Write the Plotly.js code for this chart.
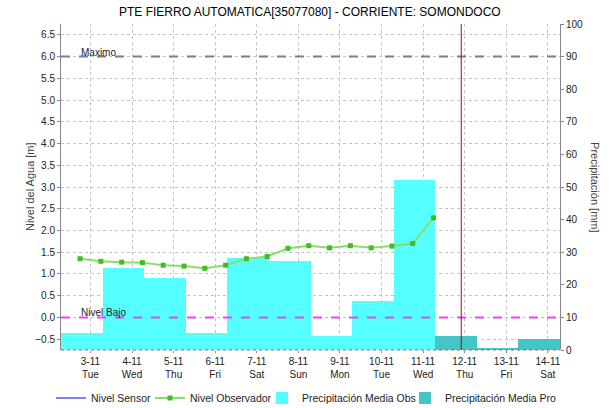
<!DOCTYPE html>
<html>
<head>
<meta charset="utf-8">
<script src="https://cdn.plot.ly/plotly-3.0.1.min.js"></script>
<style>html,body{margin:0;padding:0;background:#fff;}#chart{width:616px;height:408px;}</style>
</head>
<body>
<div id="chart"></div>
<script>
// ---- data ----
var obsTimes = [
  '2020-11-02 18:00','2020-11-03 06:00','2020-11-03 18:00','2020-11-04 06:00',
  '2020-11-04 18:00','2020-11-05 06:00','2020-11-05 18:00','2020-11-06 06:00',
  '2020-11-06 18:00','2020-11-07 06:00','2020-11-07 18:00','2020-11-08 06:00',
  '2020-11-08 18:00','2020-11-09 06:00','2020-11-09 18:00','2020-11-10 06:00',
  '2020-11-10 18:00','2020-11-11 06:00'
];
var obsLevels = [1.35,1.29,1.27,1.26,1.20,1.18,1.13,1.20,1.35,1.40,1.59,1.65,1.60,1.65,1.60,1.64,1.70,2.29];

var sensorTimes = ['2020-11-11 06:00'];
var sensorLevels = [null];

var precObsDays = ['2020-11-02 19:00','2020-11-03 19:00','2020-11-04 19:00','2020-11-05 19:00',
  '2020-11-06 19:00','2020-11-07 19:00','2020-11-08 19:00','2020-11-09 19:00','2020-11-10 19:00'];
var precObs = [5.3,25.2,22.0,5.3,28.1,27.2,4.2,15.1,52.3];

var precProDays = ['2020-11-11 19:00','2020-11-12 19:00','2020-11-13 19:00'];
var precPro = [4.4,0.7,3.3];

var tickDates = ['2020-11-03','2020-11-04','2020-11-05','2020-11-06','2020-11-07','2020-11-08',
  '2020-11-09','2020-11-10','2020-11-11','2020-11-12','2020-11-13','2020-11-14'];
var tickLabels = ['3-11<br>Tue','4-11<br>Wed','5-11<br>Thu','6-11<br>Fri','7-11<br>Sat','8-11<br>Sun',
  '9-11<br>Mon','10-11<br>Tue','11-11<br>Wed','12-11<br>Thu','13-11<br>Fri','14-11<br>Sat'];

var levelTicks = [-0.5,0,0.5,1,1.5,2,2.5,3,3.5,4,4.5,5,5.5,6,6.5];
var thresholdValues = [6.0, 0.0];
var thresholdNames = ['Maximo', 'Nivel Bajo'];
var nowMarker = '2020-11-11 22:00';

// ---- chart ----
var DAY = 86400000;
var FONT = 'Liberation Sans, Arial, sans-serif';

var traces = [
  {type:'bar', name:'Precipitación Media Obs', x:precObsDays, y:precObs, width:DAY,
   marker:{color:'#55FFFF', line:{width:0}}, xaxis:'x', yaxis:'y', hoverinfo:'skip', legend:'legend3'},
  {type:'bar', name:'Precipitación Media Pro', x:precProDays, y:precPro, width:DAY,
   marker:{color:'#44C6C6', line:{width:0}}, xaxis:'x', yaxis:'y', hoverinfo:'skip', legend:'legend4'},
  {type:'scatter', mode:'lines', name:'Nivel Sensor', x:sensorTimes, y:sensorLevels,
   line:{color:'#0000EE', width:1}, xaxis:'x', yaxis:'y2', legend:'legend'},
  {type:'scatter', mode:'lines+markers', name:'Nivel Observador', x:obsTimes, y:obsLevels,
   line:{color:'#8CDC6A', width:2}, marker:{color:'#44BB22', size:5, symbol:'square'},
   xaxis:'x', yaxis:'y2', legend:'legend2'}
];

var shapes = [
  {type:'line', xref:'paper', x0:0, x1:1, yref:'y2', y0:thresholdValues[0], y1:thresholdValues[0],
   line:{color:'#6E7DA6', width:2, dash:'dash'}, layer:'above'},
  {type:'line', xref:'paper', x0:0, x1:1, yref:'y2', y0:thresholdValues[1], y1:thresholdValues[1],
   line:{color:'#EE44EE', width:2, dash:'dash'}, layer:'above'},
  {type:'line', xref:'x', x0:nowMarker, x1:nowMarker, yref:'paper', y0:0, y1:1,
   line:{color:'#B00000', width:1}, layer:'above'},
  {type:'line', xref:'paper', x0:0, x1:1, yref:'paper', y0:0, y1:0,
   line:{color:'#777777', width:1, dash:'dot'}, layer:'above'}
];

var annotations = [
  {xref:'paper', x:0.036, yref:'y2', y:thresholdValues[0], text:thresholdNames[0], showarrow:false,
   xanchor:'left', yanchor:'bottom', yshift:-3, font:{family:FONT, size:10, color:'#222'}},
  {xref:'paper', x:0.036, yref:'y2', y:thresholdValues[1], text:thresholdNames[1], showarrow:false,
   xanchor:'left', yanchor:'bottom', yshift:-3, font:{family:FONT, size:10, color:'#222'}},
  {xref:'paper', x:-0.062, yref:'paper', y:0.5, text:'Nivel del Agua [m]', showarrow:false,
   textangle:-90, xanchor:'center', yanchor:'middle', font:{family:FONT, size:11, color:'#444'}},
  {xref:'paper', x:1.07, yref:'paper', y:0.5, text:'Precipitación [mm]', showarrow:false,
   textangle:90, xanchor:'center', yanchor:'middle', font:{family:FONT, size:11, color:'#444'}}
];

function legendAt(px) {
  return {orientation:'h', xref:'container', yref:'container', x:px/616, xanchor:'left',
    y:10/408, yanchor:'middle', font:{family:FONT, size:10.5, color:'#222'}, itemwidth:30,
    bgcolor:'rgba(0,0,0,0)', borderwidth:0};
}

var layout = {
  width:616, height:408,
  margin:{l:61, r:56, t:24, b:58, pad:0},
  paper_bgcolor:'#fff', plot_bgcolor:'#fff',
  font:{family:FONT, size:10, color:'#333'},
  title:{text:'PTE FIERRO AUTOMATICA[35077080] - CORRIENTE: SOMONDOCO',
         font:{family:FONT, size:12, color:'#000'}, x:0.503, xanchor:'center',
         yref:'container', y:0.972, yanchor:'middle'},
  barmode:'overlay', bargap:0,
  showlegend:true,
  legend:legendAt(51),
  legend2:legendAt(150),
  legend3:legendAt(262),
  legend4:legendAt(405),
  xaxis:{type:'date', range:['2020-11-02 07:00','2020-11-14 07:00'],
         tickvals:tickDates, ticktext:tickLabels, tickangle:0,
         showgrid:true, gridcolor:'#C4C4C4', griddash:'dot', gridwidth:1,
         showline:false, ticks:'outside', ticklen:2, tickcolor:'#888',
         tickfont:{family:FONT, size:10, color:'#222'}, zeroline:false, fixedrange:true},
  yaxis:{range:[0,100], dtick:10, tick0:0, side:'right', showgrid:false, zeroline:false,
         showline:true, linecolor:'#888', linewidth:1, ticks:'outside', ticklen:3, tickcolor:'#888',
         tickfont:{family:FONT, size:10, color:'#222'}},
  yaxis2:{range:[-0.75,6.75], overlaying:'y', side:'left', tickvals:levelTicks, tickformat:'.1f',
          showgrid:true, gridcolor:'#C4C4C4', griddash:'dot', gridwidth:1, zeroline:false,
          showline:true, linecolor:'#888', linewidth:1, ticks:'outside', ticklen:3, tickcolor:'#888',
          tickfont:{family:FONT, size:10, color:'#222'}},
  shapes:shapes,
  annotations:annotations
};

Plotly.newPlot('chart', traces, layout, {staticPlot:true, displayModeBar:false});
</script>
</body>
</html>
